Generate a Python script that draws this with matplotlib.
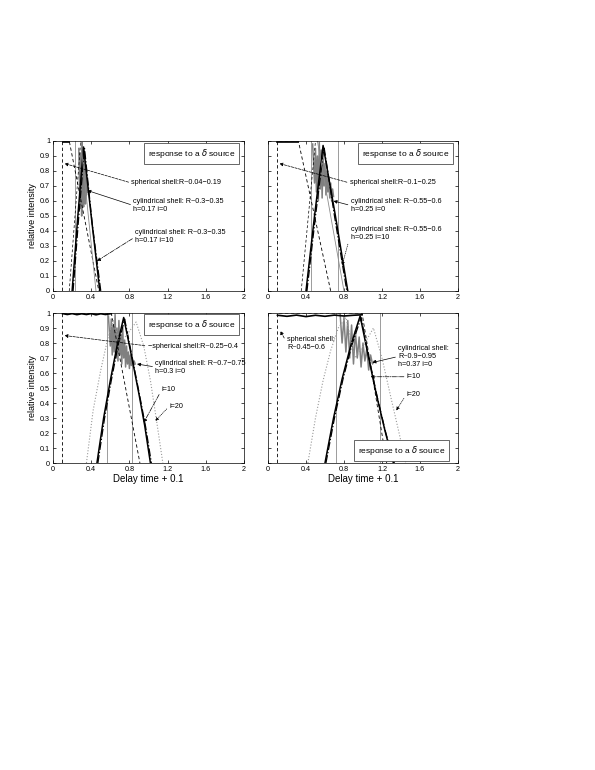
import numpy as np
import matplotlib
matplotlib.use("Agg")
import matplotlib.pyplot as plt

plt.rcParams['font.family'] = ['Liberation Sans', 'DejaVu Sans']

# ---- data (delay time + 0.1, relative intensity) ----
xticks = [0, 0.4, 0.8, 1.2, 1.6, 2]
xtick_labels = ['0', '0.4', '0.8', '1.2', '1.6', '2']
yticks = [0, 0.1, 0.2, 0.3, 0.4, 0.5, 0.6, 0.7, 0.8, 0.9, 1]
ytick_labels = ['0', '0.1', '0.2', '0.3', '0.4', '0.5', '0.6', '0.7', '0.8', '0.9', '1']

# panel 1  (h=0.17)
p1_sph_x = [0.1, 0.1, 0.17, 0.48]
p1_sph_y = [0, 1, 1, 0]
p1_sph2_x = [0.17, 0.29]
p1_sph2_y = [0, 1]
p1_vert = [0.23]
p1_grey_x = [0.29, 0.45]
p1_grey_y = [1, 0]
p1_i0_x = [0.20, 0.26, 0.32, 0.40, 0.49]
p1_i0_y = [0, 0.5, 0.96, 0.5, 0]
p1_i10_x = [0.21, 0.27, 0.33, 0.41, 0.50]
p1_i10_y = [0, 0.5, 0.95, 0.45, 0]
p1_cloud_x = [0.27, 0.28, 0.285, 0.29, 0.295, 0.30, 0.305, 0.31, 0.315, 0.32, 0.325, 0.33, 0.335, 0.34, 0.345, 0.35, 0.355, 0.36]
p1_cloud_y = [0.95, 0.62, 0.92, 0.55, 0.88, 0.5, 0.99, 0.6, 0.93, 0.56, 0.9, 0.62, 0.82, 0.58, 0.78, 0.64, 0.72, 0.66]

# panel 2  (h=0.25)
p2_sph_x = [0.1, 0.1, 0.32, 0.66]
p2_sph_y = [0, 1, 1, 0]
p2_sph2_x = [0.35, 0.50]
p2_sph2_y = [0, 1]
p2_vert = [0.45, 0.74]
p2_grey_x = [0.52, 0.80]
p2_grey_y = [1, 0]
p2_i0_x = [0.40, 0.49, 0.58, 0.71, 0.84]
p2_i0_y = [0, 0.5, 0.97, 0.5, 0]
p2_i10_x = [0.41, 0.50, 0.59, 0.70, 0.83]
p2_i10_y = [0, 0.5, 0.96, 0.5, 0]
p2_cloud_x = [0.47, 0.49, 0.50, 0.51, 0.52, 0.53, 0.54, 0.55, 0.56, 0.57, 0.58, 0.59, 0.60, 0.61, 0.62, 0.63, 0.64, 0.65, 0.66, 0.67, 0.68, 0.69]
p2_cloud_y = [0.98, 0.72, 0.95, 0.66, 0.9, 0.6, 0.99, 0.68, 0.94, 0.62, 0.88, 0.7, 0.85, 0.64, 0.8, 0.66, 0.76, 0.62, 0.72, 0.6, 0.68, 0.63]

# panel 3  (h=0.3)
p3_sph_x = [0.1, 0.1, 0.61, 0.91]
p3_sph_y = [0, 1, 1, 0]
p3_top_x = [0.1, 0.15, 0.2, 0.25, 0.3, 0.35, 0.4, 0.45, 0.5, 0.55, 0.61]
p3_top_y = [0.996, 0.99, 0.996, 0.989, 0.995, 0.99, 0.996, 0.988, 0.995, 0.99, 0.996]
p3_vert = [0.57, 0.83]
p3_i0_x = [0.46, 0.53, 0.60, 0.67, 0.74, 0.82, 0.90, 0.96, 1.02]
p3_i0_y = [0, 0.3, 0.55, 0.78, 0.97, 0.72, 0.46, 0.25, 0]
p3_i10_x = [0.47, 0.54, 0.61, 0.68, 0.75, 0.83, 0.91, 0.97, 1.03]
p3_i10_y = [0, 0.3, 0.55, 0.78, 0.96, 0.7, 0.44, 0.24, 0]
p3_i20_x = [0.35, 0.42, 0.50, 0.57, 0.63, 0.70, 0.78, 0.87, 0.95, 1.02, 1.08, 1.15]
p3_i20_y = [0, 0.35, 0.62, 0.82, 0.95, 0.8, 0.86, 0.94, 0.78, 0.55, 0.3, 0]
p3_cloud_x = [0.58, 0.60, 0.61, 0.62, 0.63, 0.64, 0.65, 0.66, 0.67, 0.68, 0.69, 0.70, 0.71, 0.72, 0.73, 0.74, 0.75, 0.76, 0.77, 0.78, 0.79, 0.80, 0.81, 0.82, 0.83, 0.84, 0.85, 0.86]
p3_cloud_y = [0.98, 0.78, 0.96, 0.72, 0.92, 0.74, 0.99, 0.7, 0.9, 0.68, 0.95, 0.72, 0.86, 0.66, 0.9, 0.7, 0.82, 0.64, 0.78, 0.66, 0.74, 0.63, 0.72, 0.65, 0.7, 0.64, 0.68, 0.66]

# panel 4  (h=0.37)
p4_sph_x = [0.1, 0.1, 0.99, 1.25]
p4_sph_y = [0, 1, 1, 0]
p4_top_x = [0.1, 0.2, 0.3, 0.4, 0.5, 0.6, 0.7, 0.8, 0.9, 0.99]
p4_top_y = [0.985, 0.978, 0.986, 0.976, 0.985, 0.978, 0.986, 0.98, 0.985, 0.988]
p4_vert = [0.72, 1.18]
p4_i0_x = [0.60, 0.69, 0.78, 0.87, 0.97, 1.06, 1.14, 1.23, 1.32]
p4_i0_y = [0, 0.3, 0.56, 0.78, 0.98, 0.7, 0.46, 0.22, 0]
p4_i10_x = [0.61, 0.70, 0.79, 0.88, 0.98, 1.07, 1.15, 1.24, 1.33]
p4_i10_y = [0, 0.3, 0.56, 0.78, 0.97, 0.68, 0.44, 0.2, 0]
p4_i20_x = [0.42, 0.50, 0.58, 0.66, 0.74, 0.82, 0.92, 1.02, 1.11, 1.20, 1.30, 1.38, 1.45]
p4_i20_y = [0, 0.3, 0.55, 0.75, 0.9, 0.97, 0.7, 0.8, 0.9, 0.7, 0.42, 0.2, 0]
p4_cloud_x = [0.76, 0.78, 0.80, 0.82, 0.84, 0.86, 0.88, 0.90, 0.92, 0.94, 0.96, 0.98, 1.00, 1.02, 1.04, 1.06, 1.08, 1.10, 1.12]
p4_cloud_y = [0.99, 0.8, 0.97, 0.74, 0.95, 0.7, 0.92, 0.66, 0.88, 0.7, 0.84, 0.64, 0.8, 0.68, 0.76, 0.62, 0.72, 0.66, 0.68]

fig = plt.figure(figsize=(5.95, 7.7), dpi=100)
ax1 = fig.add_axes([0.0891, 0.6221, 0.3210, 0.1948])
ax2 = fig.add_axes([0.4504, 0.6221, 0.3193, 0.1948])
ax3 = fig.add_axes([0.0891, 0.3987, 0.3210, 0.1948])
ax4 = fig.add_axes([0.4504, 0.3987, 0.3193, 0.1948])

fs = 5.2
grey = '0.5'


def setup(ax, left):
    ax.set_xlim(0, 2)
    ax.set_ylim(0, 1)
    ax.set_xticks(xticks)
    ax.set_xticklabels(xtick_labels, fontsize=fs)
    ax.set_yticks(yticks)
    if left:
        ax.set_yticklabels(ytick_labels, fontsize=fs)
        ax.set_ylabel('relative intensity', fontsize=6.5, labelpad=2)
    else:
        ax.set_yticklabels([])
    ax.tick_params(direction='in', top=True, right=True, length=2.5, width=0.5, pad=2)
    for s in ax.spines.values():
        s.set_linewidth(0.5)


def boxlabel(ax, x, y):
    ax.text(x, y, r'response to a $\delta$ source', fontsize=6, ha='left', va='center',
            bbox=dict(boxstyle='square,pad=0.45', fc='white', ec='0.3', lw=0.6))


def note(ax, txt, xy, xyt, ls):
    ax.annotate(txt, xy=xy, xytext=xyt, fontsize=fs, ha='left', va='center',
                arrowprops=dict(arrowstyle='-|>', lw=0.5, color='k', ls=ls,
                                mutation_scale=5, relpos=(0, 0.5), shrinkA=0, shrinkB=0))


def draw(ax, sph_x, sph_y, vert, i0_x, i0_y, i10_x, i10_y, cloud_x, cloud_y):
    ax.plot(cloud_x, cloud_y, color=grey, lw=1.1)
    for v in vert:
        ax.plot([v, v], [0, 1], color='0.55', lw=0.6)
    ax.plot(sph_x, sph_y, color='k', ls='--', lw=0.6, dashes=(4, 3))
    ax.plot(i10_x, i10_y, color='k', ls='-.', lw=0.9)
    ax.plot(i0_x, i0_y, color='k', lw=1.1)


# panel 1
setup(ax1, True)
draw(ax1, p1_sph_x, p1_sph_y, p1_vert, p1_i0_x, p1_i0_y, p1_i10_x, p1_i10_y, p1_cloud_x, p1_cloud_y)
ax1.plot(p1_sph2_x, p1_sph2_y, color='k', ls='--', lw=0.5, dashes=(4, 3))
ax1.plot(p1_grey_x, p1_grey_y, color='0.55', lw=0.6)
ax1.plot([0.1, 0.17], [0.995, 0.995], color='k', lw=1.2)
boxlabel(ax1, 0.99, 0.915)
note(ax1, 'spherical shell:R~0.04\u22120.19', (0.12, 0.85), (0.82, 0.72), '--')
note(ax1, 'cylindrical shell: R~0.3\u22120.35\nh=0.17 i=0', (0.36, 0.67), (0.84, 0.57), '-')
note(ax1, 'cylindrical shell: R~0.3\u22120.35\nh=0.17 i=10', (0.46, 0.2), (0.86, 0.36), '-.')

# panel 2
setup(ax2, False)
draw(ax2, p2_sph_x, p2_sph_y, p2_vert, p2_i0_x, p2_i0_y, p2_i10_x, p2_i10_y, p2_cloud_x, p2_cloud_y)
ax2.plot(p2_sph2_x, p2_sph2_y, color='k', ls='--', lw=0.5, dashes=(4, 3))
ax2.plot(p2_grey_x, p2_grey_y, color='0.55', lw=0.6)
ax2.plot([0.1, 0.32], [0.995, 0.995], color='k', lw=1.2)
boxlabel(ax2, 0.99, 0.915)
note(ax2, 'spherical shell:R~0.1\u22120.25', (0.12, 0.85), (0.86, 0.72), '--')
note(ax2, 'cylindrical shell: R~0.55\u22120.6\nh=0.25 i=0', (0.69, 0.6), (0.87, 0.57), '-')
note(ax2, 'cylindrical shell: R~0.55\u22120.6\nh=0.25 i=10', (0.78, 0.17), (0.87, 0.38), ':')

# panel 3
setup(ax3, True)
draw(ax3, p3_sph_x, p3_sph_y, p3_vert, p3_i0_x, p3_i0_y, p3_i10_x, p3_i10_y, p3_cloud_x, p3_cloud_y)
ax3.plot(p3_i20_x, p3_i20_y, color='0.6', ls=':', lw=0.8)
ax3.plot(p3_top_x, p3_top_y, color='k', lw=1.2)
ax3.set_xlabel('Delay time + 0.1', fontsize=7, labelpad=1)
boxlabel(ax3, 0.99, 0.925)
note(ax3, '\u2212spherical shell:R~0.25\u22120.4', (0.12, 0.85), (0.99, 0.78), '--')
note(ax3, 'cylindrical shell: R~0.7\u22120.75\nh=0.3 i=0', (0.88, 0.66), (1.07, 0.64), '-')
note(ax3, 'i=10', (0.95, 0.27), (1.14, 0.49), '-.')
note(ax3, 'i=20', (1.07, 0.28), (1.22, 0.38), ':')

# panel 4
setup(ax4, False)
draw(ax4, p4_sph_x, p4_sph_y, p4_vert, p4_i0_x, p4_i0_y, p4_i10_x, p4_i10_y, p4_cloud_x, p4_cloud_y)
ax4.plot(p4_i20_x, p4_i20_y, color='0.6', ls=':', lw=0.8)
ax4.plot(p4_top_x, p4_top_y, color='k', lw=1.2)
ax4.set_xlabel('Delay time + 0.1', fontsize=7, labelpad=1)
boxlabel(ax4, 0.95, 0.085)
note(ax4, 'spherical shell:\nR~0.45\u22120.6', (0.13, 0.88), (0.2, 0.8), '--')
note(ax4, 'cylindrical shell:\nR~0.9\u22120.95\nh=0.37 i=0', (1.1, 0.67), (1.37, 0.71), '-')
note(ax4, 'i=10', (1.08, 0.575), (1.46, 0.575), '-.')
note(ax4, 'i=20', (1.35, 0.35), (1.46, 0.46), ':')

fig.savefig('out.png', dpi=100)
